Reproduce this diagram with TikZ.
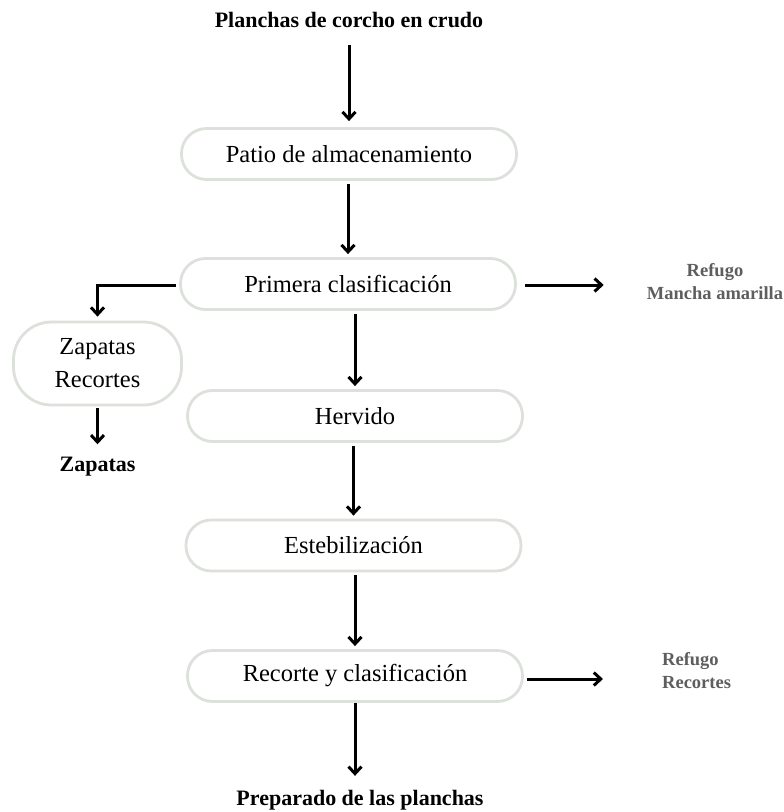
\documentclass[tikz,border=0pt]{standalone}
\usepackage{fontspec}
\setmainfont{Liberation Serif}
\usetikzlibrary{arrows.meta,calc}
\definecolor{boxline}{HTML}{DDE1DB}
\definecolor{graytxt}{HTML}{5E5E5E}
\tikzset{
  procbox/.style={draw=boxline, line width=2.8pt, rounded corners=25pt, minimum width=335pt, minimum height=51pt, inner sep=0pt, font=\fontsize{24.5}{33}\selectfont},
  sidebox/.style={draw=boxline, line width=2.8pt, rounded corners=38pt, minimum width=168pt, minimum height=83pt, inner sep=0pt, align=center, font=\fontsize{24.5}{33}\selectfont},
  boldlbl/.style={inner sep=0pt, font=\fontsize{22}{26}\selectfont\bfseries},
  graylbl/.style={inner sep=0pt, text=graytxt, font=\fontsize{18.5}{23}\selectfont\bfseries},
  flow/.style={line width=3pt, -{Straight Barb[length=7pt,width=13pt]}}
}
\begin{document}
\begin{tikzpicture}[x=1pt,y=-1pt]
\useasboundingbox (0,0) rectangle (784,812);
\node[boldlbl] (title) at (349,20) {Planchas de corcho en crudo};
\node[procbox] (patio) at (349,154) {Patio de almacenamiento};
\node[procbox] (prim) at (348,284) {Primera clasificación};
\node[sidebox] (zap) at (97.5,363.5) {Zapatas\\Recortes};
\node[boldlbl] (zapl) at (97.5,467) {Zapatas};
\node[graylbl, align=center] (ref1) at (715,281.5) {Refugo\\Mancha amarilla};
\node[procbox] (herv) at (355,416) {Hervido};
\node[procbox] (esteb) at (353.5,545.5) {Estebilización};
\node[procbox] (recor) at (355,676) {Recorte y clasificación};
\node[graylbl, align=left, anchor=west] (ref2) at (662,671) {Refugo\\Recortes};
\node[boldlbl] (prep) at (360,800) {Preparado de las planchas};

\draw[flow, shorten <=17pt, shorten >=6pt] (title.south -| patio.north) -- (patio.north);
\draw[flow, shorten <=3pt, shorten >=3pt] (patio.south -| prim.north) -- (prim.north);
\draw[flow, shorten <=3pt, shorten >=3pt] (prim.south -| herv.north) -- (herv.north);
\draw[flow, shorten <=3pt, shorten >=3pt] (herv.south -| esteb.north) -- (esteb.north);
\draw[flow, shorten <=3pt, shorten >=3pt] (esteb.south -| recor.north) -- (recor.north);
\draw[flow, shorten <=0pt, shorten >=14pt] (recor.south) -- (recor.south |- prep.north);
\draw[flow, shorten <=3pt, shorten >=4pt] ([yshift=-1pt]prim.west) -| (zap.north);
\draw[flow, shorten <=2pt, shorten >=13pt] (zap.south) -- (zapl.north);
\draw[flow, shorten <=8pt, shorten >=43pt] ([yshift=-1pt]prim.east) -- ([yshift=-1pt]prim.east -| ref1.west);
\draw[flow, shorten <=3pt, shorten >=59pt] ([yshift=-3pt]recor.east) -- ([yshift=-3pt]recor.east -| ref2.west);
\end{tikzpicture}
\end{document}
